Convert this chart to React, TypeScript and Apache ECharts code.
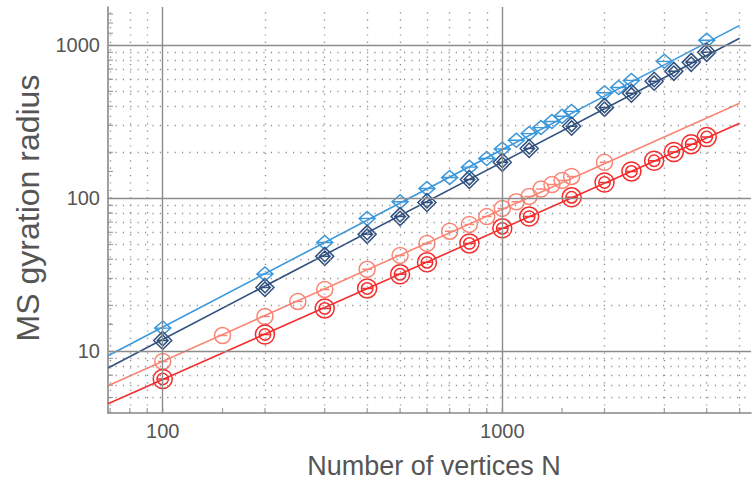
import React, { useEffect, useRef } from 'react';
import * as echarts from 'echarts';

// Light blue series (single diamond)
const lightBlueN = [100, 200, 300, 400, 500, 600, 700, 800, 900, 1000, 1100, 1200, 1300, 1400, 1500, 1600, 2000, 2200, 2400, 3000, 4000];
const lightBlueR = [14.2, 32, 51.5, 74, 95, 116, 137, 160, 182, 210, 240, 265, 290, 318, 344, 370, 490, 530, 590, 786, 1080];
// Dark blue series (double diamond)
const darkBlueN = [100, 200, 300, 400, 500, 600, 800, 1000, 1200, 1600, 2000, 2400, 2800, 3200, 3600, 4000];
const darkBlueR = [11.8, 26.2, 41.8, 58.2, 76, 94, 133, 172, 212, 296, 393, 486, 582, 676, 774, 900];
// Salmon series (single circle)
const salmonN = [100, 150, 200, 250, 300, 400, 500, 600, 700, 800, 900, 1000, 1100, 1200, 1300, 1400, 1500, 1600, 2000];
const salmonR = [8.6, 12.7, 16.9, 21.2, 25.4, 34.4, 42.4, 50.8, 61, 67.6, 76, 86, 95, 103, 115, 123, 131, 139, 172];
// Red series (double circle)
const redN = [100, 200, 300, 400, 500, 600, 800, 1000, 1200, 1600, 2000, 2400, 2800, 3200, 3600, 4000];
const redR = [6.6, 12.9, 19.1, 25.8, 31.9, 38.2, 50.8, 63.7, 76, 101.6, 127, 150, 176, 201, 226, 252];

// Fitted power-law lines (end points)
const fitLightBlue = [[69, 9.36], [5000, 1350]];
const fitDarkBlue = [[69, 7.8], [5000, 1111]];
const fitSalmon = [[69, 5.97], [5000, 419]];
const fitRed = [[69, 4.55], [5000, 310]];

// Grid lines
const xMajor = [100, 1000];
const yMajor = [10, 100, 1000];
const xMinor = [70, 80, 90, 200, 300, 400, 500, 600, 700, 800, 900, 2000, 3000, 4000, 5000];
const yMinor = [5, 6, 7, 8, 9, 20, 30, 40, 50, 60, 70, 80, 90, 200, 300, 400, 500, 600, 700, 800, 900];
// Small axis ticks
const xTicks = [70, 80, 90, 100, 150, 200, 300, 400, 500, 600, 700, 800, 900, 1000, 1500, 2000, 3000, 4000, 5000];
const yTicks = [5, 6, 7, 8, 9, 10, 15, 20, 30, 40, 50, 60, 70, 80, 90, 100, 150, 200, 300, 400, 500, 600, 700, 800, 900, 1000, 1200, 1400, 1600];

const xRange = [69, 5400];
const yRange = [3.96, 1780];

const xTitle = 'Number of vertices N';
const yTitle = 'MS gyration radius';

const C_LB = '#3a98dc';
const C_DB = '#30507e';
const C_SA = '#fa8575';
const C_RD = '#f52a2a';

const SYM_DIAMOND = 'path://M0,-10 L10,0 L0,10 L-10,0 Z M-10,0 L10,0';
const SYM_DDIAMOND = 'path://M0,-10 L10,0 L0,10 L-10,0 Z M0,-6 L6,0 L0,6 L-6,0 Z M-6,0 L6,0';
const SYM_CIRCLE = 'path://M-10,0 A10,10 0 1 1 10,0 A10,10 0 1 1 -10,0 Z M-6,0 L6,0';
const SYM_DCIRCLE = 'path://M-10,0 A10,10 0 1 1 10,0 A10,10 0 1 1 -10,0 Z M-6,0 A6,6 0 1 1 6,0 A6,6 0 1 1 -6,0 Z M-5,0 L5,0';

const FONT = 'Liberation Sans, Arial, sans-serif';

function pairs(n: number[], r: number[]) {
  return n.map((v, i) => [v, r[i]]);
}

function decadeLabel(v: number) {
  const l = Math.log10(v);
  return Math.abs(l - Math.round(l)) < 1e-6 ? String(Math.round(v)) : '';
}

export default function App() {
  const ref = useRef<HTMLDivElement>(null);
  useEffect(() => {
    if (!ref.current) return;
    const chart = echarts.init(ref.current, undefined, { renderer: 'svg' });
    const dotted = { type: [1.2, 6.2], color: '#8f8f8f', width: 1.4 };
    const solid = { type: 'solid', color: '#8c8c8c', width: 1.4 };
    const scatter = (name: string, data: number[][], symbol: string, size: number[], color: string) => ({
      type: 'scatter', name, data, symbol, symbolSize: size, z: 4,
      itemStyle: { color: 'rgba(0,0,0,0)', borderColor: color, borderWidth: 1.5, opacity: 1 },
      emphasis: { disabled: true },
    });
    const fit = (name: string, data: number[][], color: string) => ({
      type: 'line', name, data, showSymbol: false, symbol: 'none', z: 3,
      lineStyle: { color, width: 1.6 }, emphasis: { disabled: true },
    });
    chart.setOption({
      animation: false,
      backgroundColor: '#ffffff',
      grid: { left: 108, right: 0, top: 7, bottom: 68 },
      xAxis: {
        type: 'log', logBase: 10, min: xRange[0], max: xRange[1],
        axisLine: { show: true, onZero: false, lineStyle: { color: '#888', width: 1.6 } },
        axisTick: { show: false },
        splitLine: { show: false },
        axisLabel: { formatter: decadeLabel, fontSize: 20, color: '#555', fontFamily: FONT, margin: 8 },
      },
      yAxis: {
        type: 'log', logBase: 10, min: yRange[0], max: yRange[1],
        axisLine: { show: true, onZero: false, lineStyle: { color: '#888', width: 1.6 } },
        axisTick: { show: false },
        splitLine: { show: false },
        axisLabel: { formatter: decadeLabel, fontSize: 20, color: '#555', fontFamily: FONT, margin: 8 },
      },
      graphic: [
        {
          type: 'text', x: 434, y: 466,
          style: { text: xTitle, fontSize: 27, fontFamily: FONT, fill: '#555', textAlign: 'center', textVerticalAlign: 'middle' },
        },
        {
          type: 'text', x: 28, y: 208, rotation: Math.PI / 2,
          style: { text: yTitle, fontSize: 32, fontFamily: FONT, fill: '#555', textAlign: 'center', textVerticalAlign: 'middle' },
        },
      ],
      series: [
        {
          type: 'line', name: 'grid', data: [], z: 1, silent: true,
          markLine: {
            silent: true, symbol: ['none', 'none'], label: { show: false }, animation: false,
            emphasis: { disabled: true },
            data: [
              ...xMinor.map((v) => ({ xAxis: v, lineStyle: dotted })),
              ...yMinor.map((v) => ({ yAxis: v, lineStyle: dotted })),
              ...xMajor.map((v) => ({ xAxis: v, lineStyle: solid })),
              ...yMajor.map((v) => ({ yAxis: v, lineStyle: solid })),
            ],
          },
        },
        {
          type: 'scatter', name: 'yTicks', silent: true, z: 2, clip: false,
          data: yTicks.map((v) => [xRange[0], v]),
          symbol: 'rect', symbolSize: [5, 1.2], symbolOffset: [2.5, 0],
          itemStyle: { color: '#888' }, emphasis: { disabled: true },
        },
        {
          type: 'scatter', name: 'xTicks', silent: true, z: 2, clip: false,
          data: xTicks.map((v) => [v, yRange[0]]),
          symbol: 'rect', symbolSize: [1.2, 5], symbolOffset: [0, -2.5],
          itemStyle: { color: '#888' }, emphasis: { disabled: true },
        },
        fit('fitLightBlue', fitLightBlue, C_LB),
        fit('fitDarkBlue', fitDarkBlue, C_DB),
        fit('fitSalmon', fitSalmon, C_SA),
        fit('fitRed', fitRed, C_RD),
        scatter('lightBlue', pairs(lightBlueN, lightBlueR), SYM_DIAMOND, [16, 14], C_LB),
        scatter('darkBlue', pairs(darkBlueN, darkBlueR), SYM_DDIAMOND, [18, 18], C_DB),
        scatter('salmon', pairs(salmonN, salmonR), SYM_CIRCLE, [16, 16], C_SA),
        scatter('red', pairs(redN, redR), SYM_DCIRCLE, [19, 19], C_RD),
      ],
    });
    return () => chart.dispose();
  }, []);
  return <div ref={ref} style={{ position: 'absolute', left: 0, top: 0, width: 754, height: 481 }} />;
}
